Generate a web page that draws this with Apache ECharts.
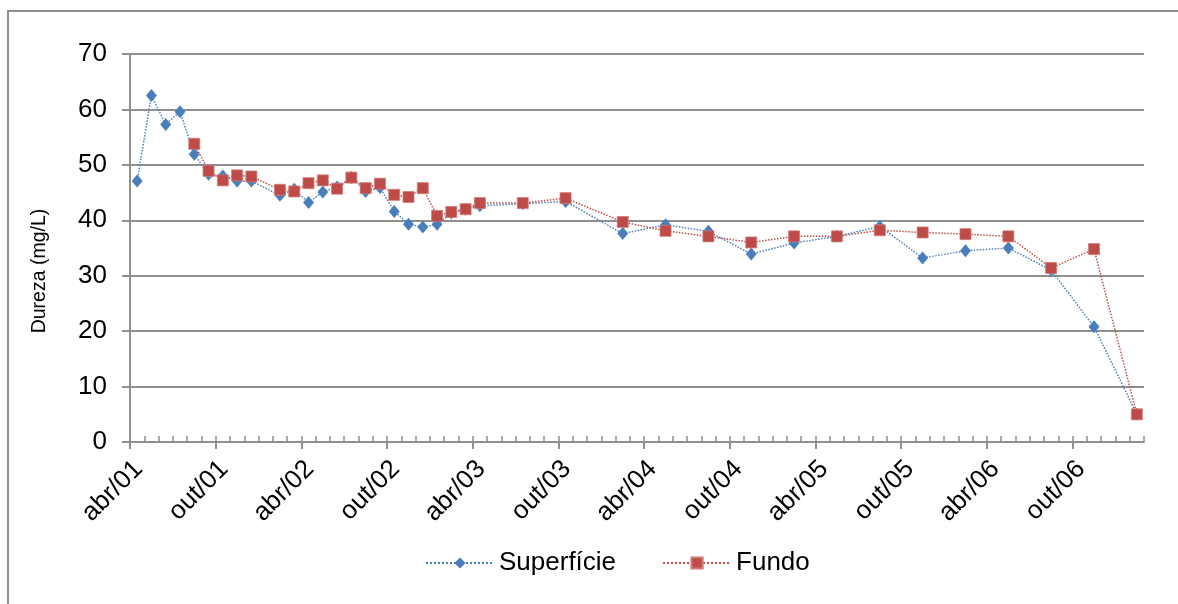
<!DOCTYPE html>
<html>
<head>
<meta charset="utf-8">
<script src="https://cdn.jsdelivr.net/npm/echarts@6/dist/echarts.min.js"></script>
<style>
  html, body { margin: 0; padding: 0; background: #fff; }
  #chart { width: 1178px; height: 604px; }
</style>
</head>
<body>
<div id="chart"></div>
<script>
// months counted from abr/01 (index 0)
const xTickLabels = ['abr/01', 'out/01', 'abr/02', 'out/02', 'abr/03', 'out/03',
  'abr/04', 'out/04', 'abr/05', 'out/05', 'abr/06', 'out/06']

const superficieDates = ['2001-04', '2001-05', '2001-06', '2001-07', '2001-08', '2001-09',
  '2001-10', '2001-11', '2001-12', '2002-02', '2002-03', '2002-04', '2002-05', '2002-06',
  '2002-07', '2002-08', '2002-09', '2002-10', '2002-11', '2002-12', '2003-01', '2003-02',
  '2003-03', '2003-04', '2003-07', '2003-10', '2004-02', '2004-05', '2004-08', '2004-11',
  '2005-02', '2005-05', '2005-08', '2005-11', '2006-02', '2006-05', '2006-08', '2006-11',
  '2007-02']
const superficieValues = [47.1, 62.5, 57.3, 59.6, 51.9, 48.3, 48.0, 47.1, 47.1, 44.5,
  45.6, 43.2, 45.1, 46.0, 47.7, 45.2, 45.9, 41.6, 39.3, 38.8, 39.3, 41.3, 42.0, 42.6,
  43.0, 43.4, 37.6, 39.2, 38.0, 33.9, 35.9, 37.1, 38.9, 33.2, 34.5, 35.0, 31.0, 20.8, 5.0]

const fundoDates = ['2001-08', '2001-09', '2001-10', '2001-11', '2001-12', '2002-02',
  '2002-03', '2002-04', '2002-05', '2002-06', '2002-07', '2002-08', '2002-09', '2002-10',
  '2002-11', '2002-12', '2003-01', '2003-02', '2003-03', '2003-04', '2003-07', '2003-10',
  '2004-02', '2004-05', '2004-08', '2004-11', '2005-02', '2005-05', '2005-08', '2005-11',
  '2006-02', '2006-05', '2006-08', '2006-11', '2007-02']
const fundoValues = [53.8, 48.9, 47.2, 48.1, 47.9, 45.5, 45.2, 46.7, 47.2, 45.7, 47.7,
  45.8, 46.6, 44.6, 44.2, 45.8, 40.8, 41.5, 42.0, 43.1, 43.1, 44.0, 39.7, 38.1, 37.1,
  36.0, 37.1, 37.1, 38.2, 37.8, 37.5, 37.1, 31.4, 34.8, 5.0]

const monthCount = 71 // abr/01 .. fev/07

// month slot index from abr/01, point sits in the middle of its month
const monthIndex = (s) => {
  const [y, m] = s.split('-').map(Number)
  return (y - 2001) * 12 + (m - 4)
}
const toPoints = (dates, values) => dates.map((d, i) => [monthIndex(d) + 0.5, values[i]])

const majorTicks = xTickLabels.map((_, i) => i * 6)
const minorTicks = []
for (let i = 0; i <= monthCount; i++) minorTicks.push(i)
// rotated labels hang a little right of their tick, like the original
const labelShift = 0.6
const labelValues = majorTicks.map((v) => v + labelShift)

const font = "'Liberation Sans', Arial, sans-serif"
const gray = '#8f8f8f'
const blue = '#4a7ebb'
const red = '#be4b48'

const gridBox = { left: 130, right: 34, top: 54, bottom: 162 }

const myChart = echarts.init(document.getElementById('chart'))

const option = {
  animation: false,
  backgroundColor: '#fff',
  textStyle: { fontFamily: font },
  graphic: [
    {
      type: 'rect',
      shape: { x: 8, y: 11, width: 1300, height: 800 },
      style: { fill: 'none', stroke: gray, lineWidth: 2 },
      silent: true
    }
  ],
  grid: [
    Object.assign({}, gridBox),
    Object.assign({}, gridBox)
  ],
  legend: {
    left: 420,
    top: 545,
    itemWidth: 68,
    itemHeight: 14,
    itemGap: 46,
    textStyle: { fontSize: 26, color: '#000', fontFamily: font },
    data: ['Superfície', 'Fundo']
  },
  xAxis: [
    {
      type: 'value',
      gridIndex: 0,
      min: 0,
      max: monthCount,
      axisLine: { show: true, lineStyle: { color: gray, width: 2 } },
      axisTick: {
        show: true,
        inside: true,
        length: 6,
        customValues: minorTicks,
        lineStyle: { color: gray, width: 1.5 }
      },
      axisLabel: {
        customValues: labelValues,
        rotate: 45,
        margin: 23,
        fontSize: 26,
        color: '#000',
        fontFamily: font,
        formatter: (v) => xTickLabels[Math.round((v - labelShift) / 6)] || ''
      },
      splitLine: { show: false }
    },
    {
      type: 'value',
      gridIndex: 1,
      min: 0,
      max: monthCount,
      axisLine: { show: false },
      axisTick: {
        show: true,
        length: 7,
        customValues: majorTicks,
        lineStyle: { color: gray, width: 2 }
      },
      axisLabel: { show: false },
      splitLine: { show: false }
    }
  ],
  yAxis: [
    {
      type: 'value',
      gridIndex: 0,
      min: 0,
      max: 70,
      interval: 10,
      name: 'Dureza (mg/L)',
      nameLocation: 'middle',
      nameGap: 80,
      nameTextStyle: { fontSize: 19.5, color: '#000', fontFamily: font, padding: [0, 46, 0, 0] },
      axisLine: { show: true, lineStyle: { color: gray, width: 2 } },
      axisTick: { show: true, length: 8, lineStyle: { color: gray, width: 2 } },
      axisLabel: { fontSize: 26, color: '#000', margin: 23, fontFamily: font },
      splitLine: { show: true, lineStyle: { color: gray, width: 2 } }
    },
    {
      type: 'value',
      gridIndex: 1,
      min: 0,
      max: 70,
      show: false
    }
  ],
  series: [
    {
      name: 'Superfície',
      type: 'line',
      xAxisIndex: 0,
      yAxisIndex: 0,
      data: toPoints(superficieDates, superficieValues),
      symbol: 'diamond',
      symbolSize: [11, 13],
      itemStyle: { color: blue },
      lineStyle: { color: blue, width: 1.5, type: 'dotted' },
      z: 2
    },
    {
      name: 'Fundo',
      type: 'line',
      xAxisIndex: 0,
      yAxisIndex: 0,
      data: toPoints(fundoDates, fundoValues),
      symbol: 'rect',
      symbolSize: 11,
      itemStyle: { color: red, borderColor: '#cd7c7a', borderWidth: 0.8 },
      lineStyle: { color: red, width: 1.5, type: 'dotted' },
      z: 3
    }
  ]
}
myChart.setOption(option)
</script>
</body>
</html>
